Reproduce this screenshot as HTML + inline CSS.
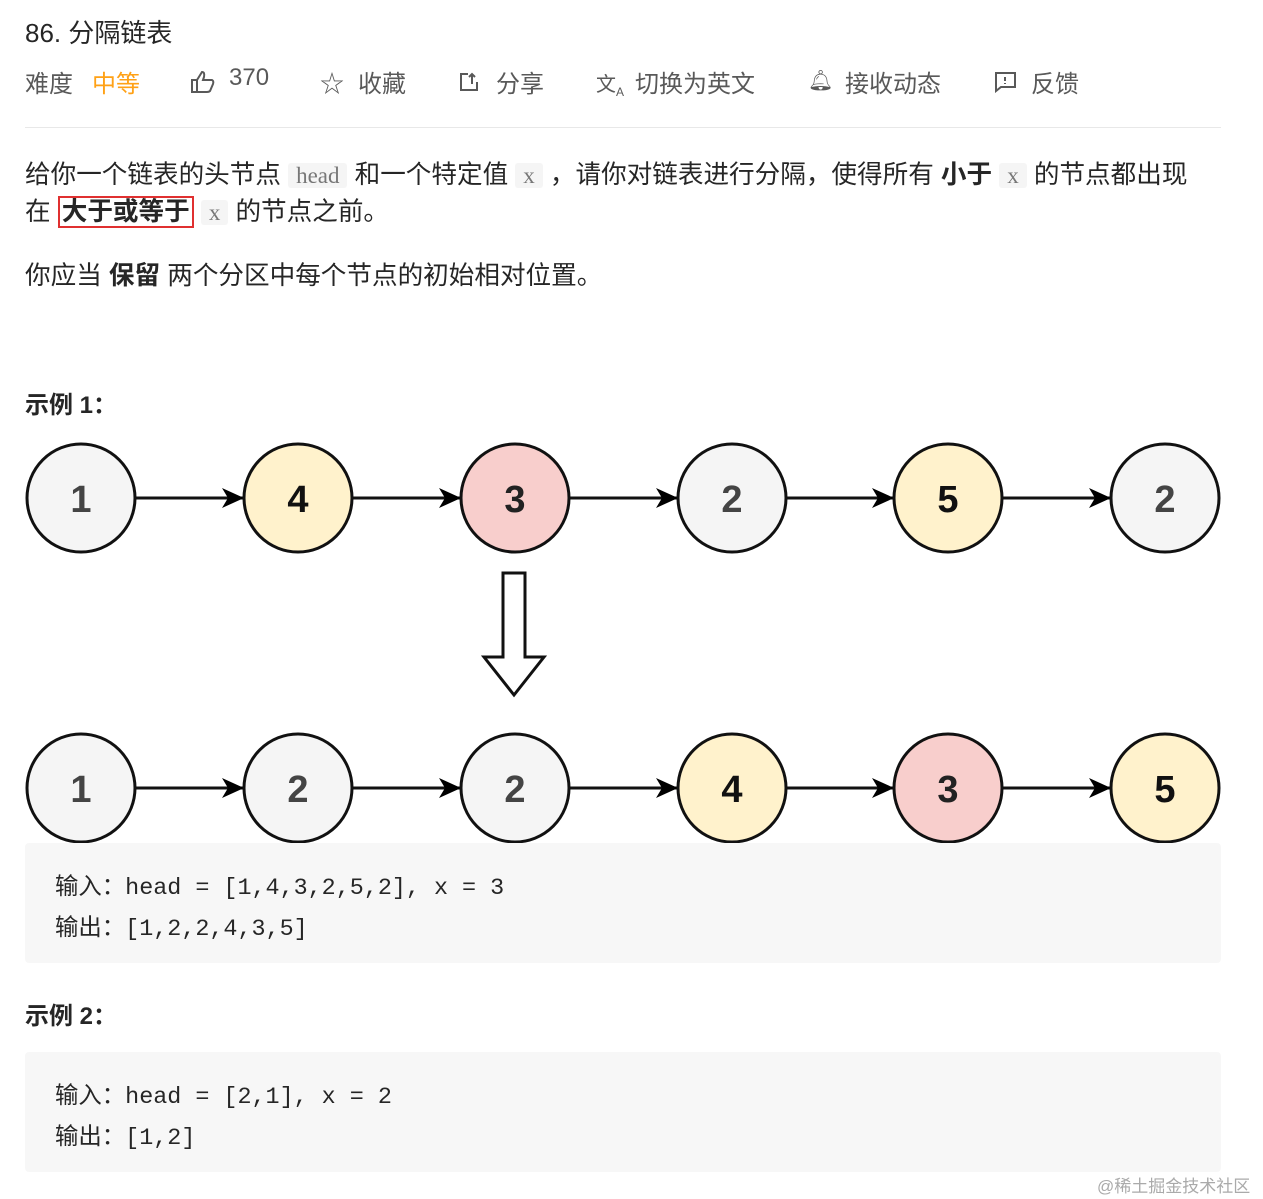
<!DOCTYPE html>
<html><head><meta charset="utf-8"><style>
body{margin:0;width:1263px;height:1199px;background:#fff;font-family:"Liberation Sans","Noto Sans CJK SC",sans-serif;color:#262626;position:relative;overflow:hidden}
.a{position:absolute;white-space:nowrap}
.h{position:absolute;top:64px;font-size:24px;color:#595959;white-space:nowrap}
.c{background:#f5f5f5;border-radius:3px;font-family:"Liberation Serif","Noto Serif CJK SC",serif;color:#777;padding:0 8px;font-size:23px}
.p{font-size:25.6px;line-height:37px}
.pre{position:absolute;left:25px;width:1196px;background:#f7f7f7;border-radius:4px;font-family:"Liberation Mono","Noto Sans CJK SC",monospace;font-size:23.4px;color:#262626}
.pre div{position:absolute;left:30px}
</style></head><body>
<div class="a" style="left:25px;top:13px;font-size:26px;color:#262626">86. 分隔链表</div>
<div class="h" style="left:25px">难度</div><div class="h" style="left:92px;color:#ffa116">中等</div>
<svg class="a" style="left:190px;top:70px" width="26" height="24" fill="none" stroke="#595959" stroke-width="2"><path d="M2,10 H7 V22 H2 Z M7,10 L12,2 Q15,2 14,7 L13,10 H22 Q24,11 23,14 L20,21 Q19,22 17,22 H7"/></svg>
<div class="h" style="left:229px">370</div>
<div class="h" style="left:320px">☆</div><div class="h" style="left:358px">收藏</div>
<svg class="a" style="left:459px;top:72px" width="22" height="20" fill="none" stroke="#595959" stroke-width="2"><path d="M9,2 H2 V18 H18 V10 M10,5 L13,2 L16,5 M13,2 V12"/></svg>
<div class="h" style="left:496px">分享</div>
<div class="h" style="left:596px;font-size:20px;top:68px">文<sub style="font-size:12px">A</sub></div><div class="h" style="left:635px">切换为英文</div>
<div class="h" style="left:808px;font-size:20px;top:68px">🔔︎</div><div class="h" style="left:845px">接收动态</div>
<svg class="a" style="left:993px;top:71px" width="24" height="22" fill="none" stroke="#595959" stroke-width="2"><path d="M2,2 H22 V16 H8 L3,20 V2 Z M12,6 V10 M12,12 V13"/></svg>
<div class="h" style="left:1031px">反馈</div>
<div class="a" style="left:25px;top:127px;width:1196px;height:1px;background:#e8e8e8"></div>
<div class="a p" style="left:25px;top:157px">给你一个链表的头节点 <span class="c">head</span> 和一个特定值 <span class="c">x</span> ，请你对链表进行分隔，使得所有 <b>小于</b> <span class="c">x</span> 的节点都出现</div>
<div class="a p" style="left:25px;top:194px">在 <b style="border:2px solid #e03030;padding:0 2px">大于或等于</b> <span class="c">x</span> 的节点之前。</div>
<div class="a p" style="left:25px;top:258px">你应当 <b>保留</b> 两个分区中每个节点的初始相对位置。</div>
<div class="a" style="left:25px;top:385px;font-size:24px;font-weight:bold">示例 1：</div>
<svg class="a" style="left:0;top:430px" width="1263" height="420">
<defs><marker id="m" markerWidth="22" markerHeight="20" refX="21" refY="10" orient="auto" markerUnits="userSpaceOnUse"><path d="M0,0 L22,10 L0,20 L6,10z" fill="#000"/></marker></defs>
<g stroke="#111" stroke-width="3" font-family="Liberation Sans,sans-serif" font-size="38" font-weight="bold" text-anchor="middle">
<g id="r1">
<line x1="136" y1="68" x2="243" y2="68" marker-end="url(#m)"/>
<line x1="353" y1="68" x2="460" y2="68" marker-end="url(#m)"/>
<line x1="570" y1="68" x2="677" y2="68" marker-end="url(#m)"/>
<line x1="787" y1="68" x2="893" y2="68" marker-end="url(#m)"/>
<line x1="1003" y1="68" x2="1110" y2="68" marker-end="url(#m)"/>
</g>
<circle cx="81" cy="68" r="54" fill="#f5f5f5"/><circle cx="298" cy="68" r="54" fill="#fff2cc"/><circle cx="515" cy="68" r="54" fill="#f8cecc"/><circle cx="732" cy="68" r="54" fill="#f5f5f5"/><circle cx="948" cy="68" r="54" fill="#fff2cc"/><circle cx="1165" cy="68" r="54" fill="#f5f5f5"/>
<use href="#r1" y="290"/>
<circle cx="81" cy="358" r="54" fill="#f5f5f5"/><circle cx="298" cy="358" r="54" fill="#f5f5f5"/><circle cx="515" cy="358" r="54" fill="#f5f5f5"/><circle cx="732" cy="358" r="54" fill="#fff2cc"/><circle cx="948" cy="358" r="54" fill="#f8cecc"/><circle cx="1165" cy="358" r="54" fill="#fff2cc"/>
<path d="M503,143 H525 V227 H544 L514,265 L484,227 H503 Z" fill="#fff"/>
<g stroke="none">
<text x="81" y="82" fill="#444">1</text><text x="298" y="82" fill="#111">4</text><text x="515" y="82" fill="#222">3</text><text x="732" y="82" fill="#444">2</text><text x="948" y="82" fill="#111">5</text><text x="1165" y="82" fill="#444">2</text>
<text x="81" y="372" fill="#444">1</text><text x="298" y="372" fill="#444">2</text><text x="515" y="372" fill="#444">2</text><text x="732" y="372" fill="#111">4</text><text x="948" y="372" fill="#222">3</text><text x="1165" y="372" fill="#111">5</text>
</g></g></svg>
<div class="pre" style="top:843px;height:120px"><div style="top:24px">输入：head = [1,4,3,2,5,2], x = 3</div><div style="top:65px">输出：[1,2,2,4,3,5]</div></div>
<div class="a" style="left:25px;top:996px;font-size:24px;font-weight:bold">示例 2：</div>
<div class="pre" style="top:1052px;height:120px"><div style="top:24px">输入：head = [2,1], x = 2</div><div style="top:65px">输出：[1,2]</div></div>
<div class="a" style="left:1097px;top:1172px;font-size:17px;color:#aaa">@稀土掘金技术社区</div>
</body></html>
